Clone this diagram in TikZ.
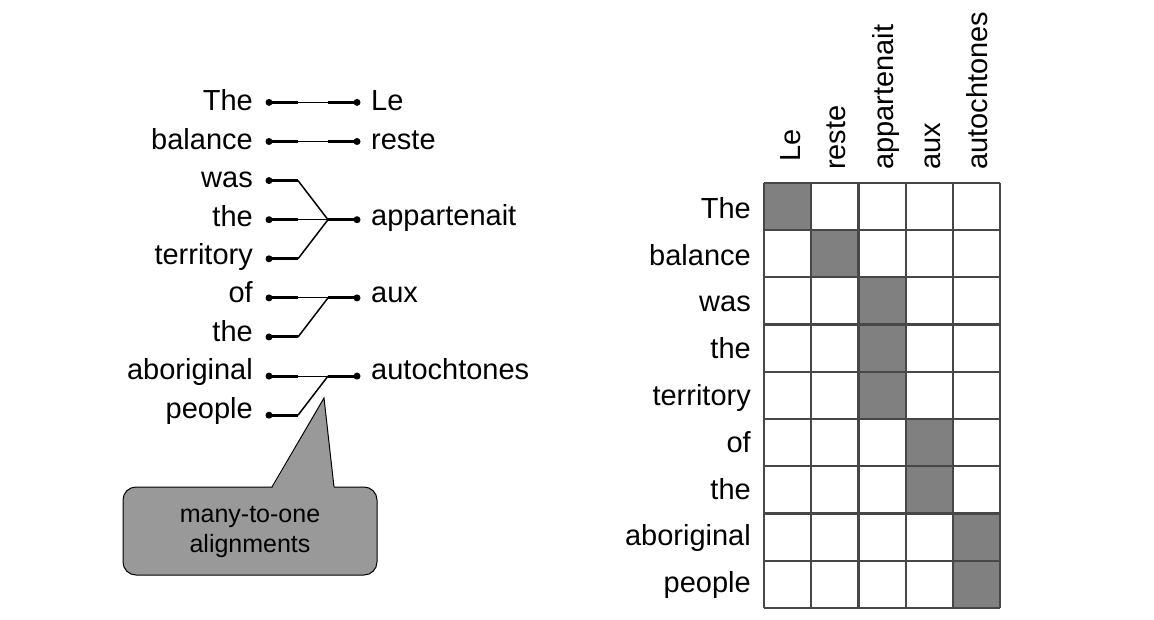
\documentclass[tikz,border=0pt]{standalone}
\usepackage{fontspec}
\setmainfont{Liberation Sans}
\begin{document}
\begin{tikzpicture}[x=1pt,y=-1pt,
  word/.style={font=\fontsize{29}{34}\selectfont, inner sep=0pt},
  thickseg/.style={line width=3pt},
  thinseg/.style={line width=1pt},
  diag/.style={line width=1.5pt},
  dotmark/.style={circle, fill=black, inner sep=0pt, minimum size=7pt},
  gridline/.style={draw=black!72, line width=2.2pt},
  aligned/.style={fill=black!50},
  callout/.style={fill=black!40, draw=black, line width=1pt}]
\useasboundingbox (0,0) rectangle (1154,620);

% ---------- left: word alignment ----------
\foreach \w [count=\i] in {The,balance,was,the,territory,of,the,aboriginal,people}{
  \pgfmathsetmacro{\yy}{102.4+39.1*(\i-1)}
  \pgfmathsetmacro{\yb}{110.7+38.45*(\i-1)}
  \node[word, anchor=base east] (s\i) at (253,\yb) {\w};
  \node[dotmark] (ls\i) at (269,\yy) {};
  \coordinate (ms\i) at (298,\yy);
}
% right words
\node[word, anchor=base west] (t1) at (371,110.7) {Le};
\node[word, anchor=base west] (t2) at (371,149.2) {reste};
\node[word, anchor=base west] (t3) at (371,226) {appartenait};
\node[word, anchor=base west] (t4) at (371,303) {aux};
\node[word, anchor=base west] (t5) at (371,379.9) {autochtones};
\foreach \i/\k in {1/0,2/1,3/3,4/5,5/7}{
  \pgfmathsetmacro{\yy}{102.4+39.1*\k}
  \node[dotmark] (rt\i) at (357,\yy) {};
  \coordinate (jt\i) at (328,\yy);
}
% thick stubs on the source side
\foreach \i in {1,...,9}{
  \draw[thickseg] (ls\i.center) -- (ms\i);
}
% thick stubs on the target side
\foreach \i in {1,...,5}{
  \draw[thickseg] (jt\i) -- (rt\i.center);
}
% thin / diagonal links
\draw[thinseg] (ms1) -- (jt1);
\draw[thinseg] (ms2) -- (jt2);
\draw[diag] (ms3) -- (jt3);
\draw[thinseg] (ms4) -- (jt3);
\draw[diag] (ms5) -- (jt3);
\draw[thinseg] (ms6) -- (jt4);
\draw[diag] (ms7) -- (jt4);
\draw[thinseg] (ms8) -- (jt5);
\draw[diag] (ms9) -- (jt5);

% ---------- callout ----------
\draw[callout, rounded corners=13pt] (123,487) rectangle (377,575);
\fill[black!40] (272,488.5) -- (324,398) -- (334,488.5) -- cycle;
\draw[line width=1pt] (272,487) -- (324,398) -- (334,487);
\node[font=\fontsize{25}{30}\selectfont, align=center, inner sep=0pt] (cl) at (250,532) {many-to-one\\alignments};

% ---------- right: alignment matrix ----------
\def\cw{47.2}
\def\gx{764}
\def\gy{183}
\foreach \c/\r in {1/1,2/2,3/3,3/4,3/5,4/6,4/7,5/8,5/9}{
  \fill[aligned] (\gx+\cw*\c-\cw, \gy+\cw*\r-\cw) rectangle (\gx+\cw*\c, \gy+\cw*\r);
}
\foreach \k in {0,...,5}{
  \draw[gridline] (\gx+\cw*\k, \gy) -- (\gx+\cw*\k, \gy+9*\cw);
}
\foreach \k in {0,...,9}{
  \draw[gridline] (\gx, \gy+\cw*\k) -- (\gx+5*\cw, \gy+\cw*\k);
}
\foreach \w [count=\i] in {The,balance,was,the,territory,of,the,aboriginal,people}{
  \node[word, anchor=base east] (rs\i) at (751, 218.3+46.8*\i-46.8) {\w};
}
\node[word, anchor=base west, rotate=90] (c1) at (\gx+\cw*0.5+13, 162) {Le};
\foreach \w [count=\i from 2] in {reste,appartenait,aux,autochtones}{
  \node[word, anchor=base west, rotate=90] (c\i) at (\gx+\cw*\i-\cw/2+11, 170) {\w};
}
\end{tikzpicture}
\end{document}
